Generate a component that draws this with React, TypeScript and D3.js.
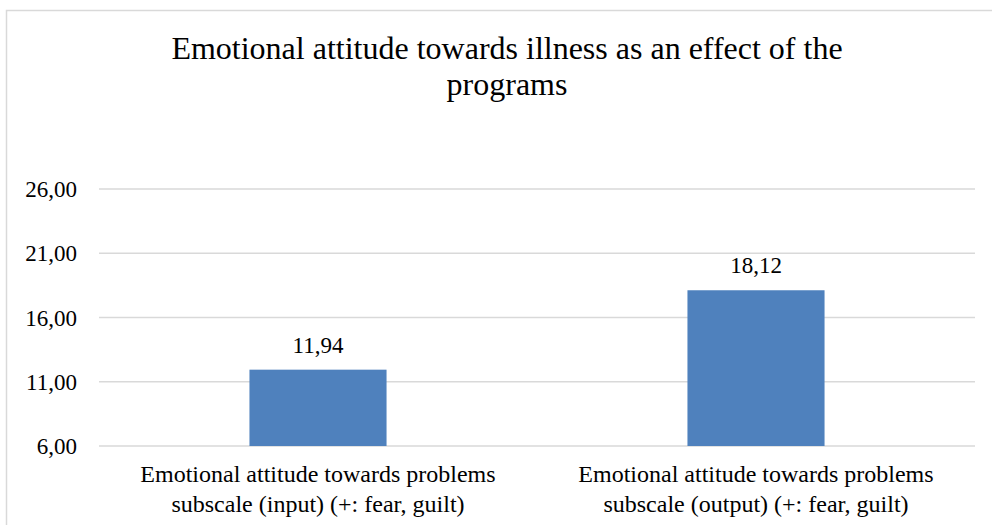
import React from "react";
import * as d3 from "d3";

const categories = [
  ["Emotional attitude towards problems", "subscale (input) (+: fear, guilt)"],
  ["Emotional attitude towards problems", "subscale (output) (+: fear, guilt)"],
];
const values = [11.94, 18.12];
const yTicks = [6, 11, 16, 21, 26];
const titleLines = ["Emotional attitude towards illness as an effect of the", "programs"];

const W = 992;
const H = 525;
const FONT = "Liberation Serif, serif";
const GRID = "#d9d9d9";
const BAR = "#4f81bd";
const fmt = (v: number) => v.toFixed(2).replace(".", ",");

const plotLeft = 99;
const plotRight = 975;

const y = d3.scaleLinear().domain([6, 26]).range([446, 189]);
const x = d3
  .scaleBand<number>()
  .domain(categories.map((_, i) => i))
  .range([plotLeft, plotRight])
  .paddingInner(0.687)
  .paddingOuter(0.3435);

export default function App() {
  const bw = x.bandwidth();
  return (
    <svg
      width={W}
      height={H}
      style={{ position: "absolute", left: 0, top: 0, display: "block", background: "#fff" }}
    >
      <rect width={W} height={H} fill="#fff" />
      {/* chart area border */}
      <path d={`M6.5,${H} V10.5 H${W}`} fill="none" stroke={GRID} strokeWidth={1.5} />

      {/* title */}
      <g fontFamily={FONT} fontSize={32} fill="#000" textAnchor="middle">
        {titleLines.map((t, i) => (
          <text key={i} x={507} y={59 + i * 36}>
            {t}
          </text>
        ))}
      </g>

      {/* horizontal gridlines */}
      <g>
        {yTicks.map((t) => (
          <line key={t} x1={plotLeft} x2={plotRight} y1={y(t)} y2={y(t)} stroke={GRID} strokeWidth={1.5} />
        ))}
      </g>

      {/* y axis labels */}
      <g fontFamily={FONT} fontSize={23} fill="#000" textAnchor="end">
        {yTicks.map((t) => (
          <text key={t} x={77} y={y(t) + 8}>
            {fmt(t)}
          </text>
        ))}
      </g>

      {/* bars */}
      <g>
        {values.map((v, i) => (
          <rect key={i} x={x(i)} y={y(v)} width={bw} height={y(6) - y(v)} fill={BAR} />
        ))}
      </g>

      {/* data labels */}
      <g fontFamily={FONT} fontSize={23} fill="#000" textAnchor="middle">
        {values.map((v, i) => (
          <text key={i} x={x(i)! + bw / 2} y={y(v) - 17}>
            {fmt(v)}
          </text>
        ))}
      </g>

      {/* category labels */}
      <g fontFamily={FONT} fontSize={24} fill="#000" textAnchor="middle">
        {categories.map((lines, i) => (
          <text key={i}>
            {lines.map((l, j) => (
              <tspan key={j} x={x(i)! + bw / 2} y={482 + j * 29.5}>
                {l}
              </tspan>
            ))}
          </text>
        ))}
      </g>
    </svg>
  );
}
